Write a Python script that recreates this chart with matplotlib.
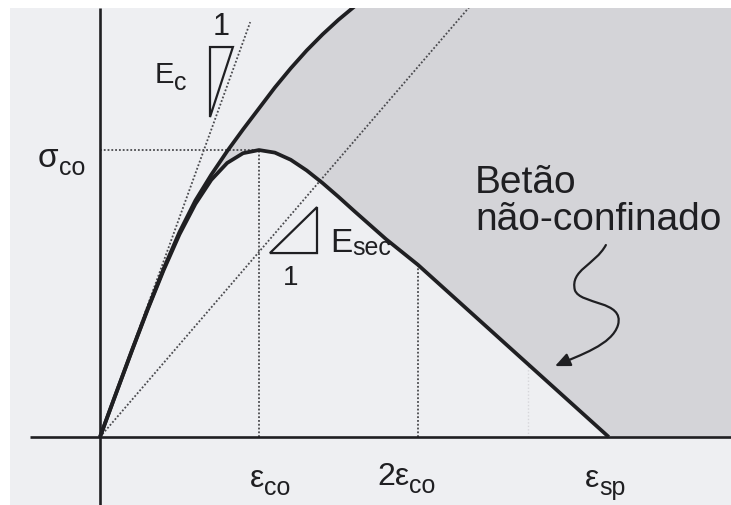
import matplotlib.pyplot as plt
from matplotlib.patches import Polygon, FancyArrowPatch
from matplotlib.path import Path

plt.rcParams['font.family'] = ['Liberation Sans', 'DejaVu Sans']

# strain in units of eps_co, stress in units of sigma_co
# unconfined concrete (lower curve)
strain_unconf = [0.0, 0.1, 0.2, 0.3, 0.4, 0.5, 0.6, 0.7, 0.8, 0.9, 1.0,
                 1.1, 1.2, 1.3, 1.4, 1.5, 1.6, 1.8, 2.0, 3.2]
stress_unconf = [0.0, 0.150, 0.299, 0.444, 0.581, 0.706, 0.812, 0.896, 0.955, 0.989, 1.0,
                 0.991, 0.966, 0.929, 0.885, 0.837, 0.787, 0.689, 0.600, 0.0]

# confined concrete (upper curve, leaves the plot at the top)
strain_conf = [0.0, 0.1, 0.2, 0.3, 0.4, 0.5, 0.6, 0.7, 0.8, 0.9, 1.0,
               1.1, 1.2, 1.3, 1.4, 1.5, 1.6, 1.7]
stress_conf = [0.0, 0.151, 0.301, 0.447, 0.586, 0.714, 0.824, 0.914, 0.996, 1.072, 1.145,
               1.218, 1.285, 1.347, 1.403, 1.454, 1.500, 1.543]

# reference strains and moduli
eps_co = 1.0
eps_2co = 2.0
eps_sp = 3.2
eps_cu = 2.69
sigma_co = 1.0
Ec_slope = 1.53
Esec_slope = 0.645

ink = '#1f1f22'
dots = '#4a4a4e'
paper = '#eeeff2'
shade = '#d4d4d8'

fig = plt.figure(figsize=(7.31, 5.05), dpi=100, facecolor='white')
ax = fig.add_axes([10 / 731, 0, 721 / 731, 497 / 505])
ax.set_xlim(-0.566, 3.969)
ax.set_ylim(-0.237, 1.495)
ax.set_facecolor(paper)
ax.set_xticks([])
ax.set_yticks([])
for s in ax.spines.values():
    s.set_visible(False)

# gray band between the confined and unconfined curves
xmax, ymax = ax.get_xlim()[1], ax.get_ylim()[1]
band = list(zip(strain_conf, stress_conf))
band += [(strain_conf[-1], ymax + 0.2), (xmax + 0.1, ymax + 0.2), (xmax + 0.1, 0.0)]
band += list(zip(strain_unconf[::-1], stress_unconf[::-1]))
ax.add_patch(Polygon(band, closed=True, facecolor=shade, edgecolor='none', zorder=1))

# axes
ax.plot([-0.44, xmax], [0, 0], color=ink, lw=1.9, zorder=4, solid_capstyle='butt')
ax.plot([0, 0], [ax.get_ylim()[0], ymax], color=ink, lw=1.9, zorder=4, solid_capstyle='butt')

# dotted construction lines
dot = dict(color=dots, lw=1.3, ls=(0, (1, 1.1)), zorder=2)
ax.plot([0, 0.945], [0, 0.945 * Ec_slope], **dot)
ax.plot([0, 2.35], [0, 2.35 * Esec_slope], **dot)
ax.plot([0, 0.98 * eps_co], [sigma_co, sigma_co], **dot)
ax.plot([eps_co, eps_co], [0, sigma_co], **dot)
ax.plot([eps_2co, eps_2co], [0, stress_unconf[strain_unconf.index(eps_2co)]], **dot)
ax.plot([eps_cu, eps_cu], [0, 0.28], color='#d6d6da', lw=1.0, ls=(0, (1, 1.5)), zorder=2)

# stress-strain curves
ax.plot(strain_conf, stress_conf, color=ink, lw=2.7, zorder=3, solid_capstyle='butt')
ax.plot(strain_unconf, stress_unconf, color=ink, lw=2.7, zorder=3, solid_capstyle='butt')

# slope triangles
ax.add_patch(Polygon([(0.692, 1.359), (0.836, 1.359), (0.692, 1.115)], closed=True,
                     fill=False, edgecolor=ink, lw=1.6, zorder=3))
ax.add_patch(Polygon([(1.069, 0.641), (1.365, 0.641), (1.365, 0.801)], closed=True,
                     fill=False, edgecolor=ink, lw=1.6, zorder=3))


def sub_label(x, y, main, sub, size=23, sub_size=18, drop=-4.5):
    t = ax.text(x, y, main, fontsize=size, ha='left', va='baseline', color=ink, zorder=5)
    ax.annotate(sub, xy=(1, 0), xycoords=t, xytext=(0, drop), textcoords='offset points',
                fontsize=sub_size, ha='left', va='bottom', color=ink, zorder=5)


sub_label(-0.39, 0.941, 'σ', 'co', size=24)
sub_label(0.943, -0.174, 'ε', 'co')
sub_label(1.742, -0.167, '2ε', 'co')
sub_label(3.05, -0.174, 'ε', 'sp')
sub_label(0.346, 1.233, 'E', 'c', size=21, sub_size=18, drop=-4)
sub_label(1.447, 0.645, 'E', 'sec', size=24, sub_size=18, drop=-1)
ax.text(0.761, 1.40, '1', fontsize=22, ha='center', va='baseline', color=ink)
ax.text(1.20, 0.530, '1', fontsize=20, ha='center', va='baseline', color=ink)

ax.text(2.358, 0.850, 'Betão', fontsize=28, ha='left', va='baseline', color=ink)
ax.text(2.358, 0.721, 'não-confinado', fontsize=28, ha='left', va='baseline', color=ink)

# wavy pointer to the softening branch
verts = [(3.182, 0.669), (3.113, 0.599), (2.956, 0.582), (2.987, 0.512),
         (3.019, 0.460), (3.302, 0.477), (3.258, 0.390),
         (3.220, 0.321), (3.019, 0.286), (2.862, 0.247)]
codes = [Path.MOVETO] + [Path.CURVE4] * 9
ax.add_patch(FancyArrowPatch(path=Path(verts, codes), arrowstyle='-|>,head_length=9,head_width=4',
                             color=ink, lw=1.6, zorder=4))

fig.savefig('out.png', dpi=100, facecolor='white')
